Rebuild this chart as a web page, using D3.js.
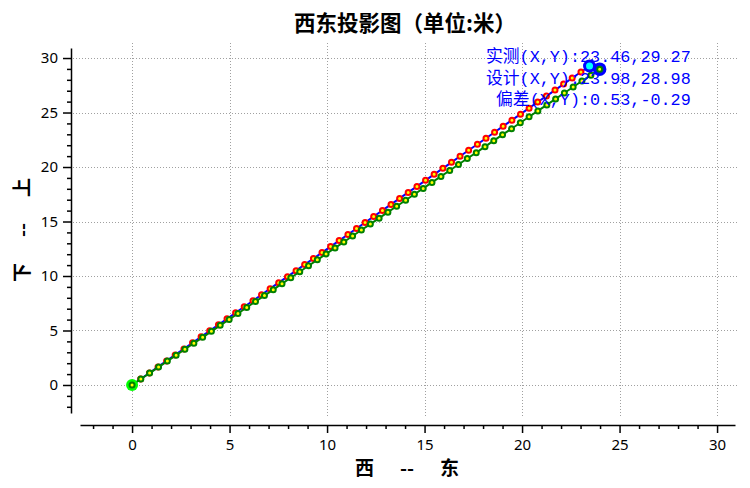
<!DOCTYPE html>
<html><head><meta charset="utf-8">
<script src="https://cdn.jsdelivr.net/npm/d3@7/dist/d3.min.js"></script>
<style>
body{margin:0;background:#fff;}
svg{display:block;}
text{white-space:pre;}
</style></head>
<body><svg id="c" width="750" height="488"></svg>
<script>
const title = "西东投影图（单位:米）";
const xLabel = "西      --      东";
const yLabel = "下      --      上";
const xMajorTicks = [0,5,10,15,20,25,30];
const yMajorTicks = [0,5,10,15,20,25,30];
const xMinorTicks = [-2,-1,1,2,3,4,6,7,8,9,11,12,13,14,16,17,18,19,21,22,23,24,26,27,28,29];
const yMinorTicks = [-2,-1,1,2,3,4,6,7,8,9,11,12,13,14,16,17,18,19,21,22,23,24,26,27,28,29];

// measured series (实测)
const measX = [0,0.44,0.89,1.33,1.77,2.21,2.66,3.10,3.54,3.98,4.43,4.87,5.31,5.75,6.20,6.64,7.08,7.52,7.97,8.41,8.85,9.30,9.74,10.18,10.62,11.07,11.51,11.95,12.39,12.84,13.28,13.72,14.16,14.61,15.05,15.49,15.94,16.38,16.82,17.26,17.71,18.15,18.59,19.03,19.48,19.92,20.36,20.80,21.25,21.69,22.13,22.57,23.02,23.46];
const measY = [0,0.55,1.10,1.66,2.21,2.76,3.31,3.87,4.42,4.97,5.52,6.07,6.63,7.18,7.73,8.28,8.84,9.39,9.94,10.49,11.05,11.60,12.15,12.70,13.25,13.81,14.36,14.91,15.46,16.02,16.57,17.12,17.67,18.22,18.78,19.33,19.88,20.43,20.99,21.54,22.09,22.64,23.19,23.75,24.30,24.85,25.40,25.96,26.51,27.06,27.61,28.17,28.72,29.27];
// design series (设计)
const desX = [0,0.45,0.90,1.36,1.81,2.26,2.71,3.17,3.62,4.07,4.52,4.98,5.43,5.88,6.33,6.79,7.24,7.69,8.14,8.60,9.05,9.50,9.95,10.41,10.86,11.31,11.76,12.22,12.67,13.12,13.57,14.03,14.48,14.93,15.38,15.84,16.29,16.74,17.19,17.65,18.10,18.55,19.00,19.46,19.91,20.36,20.81,21.27,21.72,22.17,22.62,23.07,23.53,23.98];
const desY = [0,0.55,1.09,1.64,2.19,2.73,3.28,3.83,4.37,4.92,5.47,6.01,6.56,7.11,7.66,8.20,8.75,9.30,9.84,10.39,10.94,11.48,12.03,12.58,13.12,13.67,14.22,14.76,15.31,15.86,16.40,16.95,17.50,18.04,18.59,19.14,19.68,20.23,20.78,21.32,21.87,22.42,22.97,23.51,24.06,24.61,25.15,25.70,26.25,26.79,27.34,27.89,28.43,28.98];

const startPoint = [0,0];
const measEnd = [23.46,29.27];
const desEnd = [23.98,28.98];
const deviation = [0.53,-0.29];
const infoLines = [
  "实测(X,Y):" + measEnd[0].toFixed(2) + "," + measEnd[1].toFixed(2),
  "设计(X,Y):" + desEnd[0].toFixed(2) + "," + desEnd[1].toFixed(2),
  " 偏差(X,Y):" + deviation[0].toFixed(2) + "," + deviation[1].toFixed(2)
];

const svg = d3.select("#c");
const x = d3.scaleLinear().domain([-2.67,30.92]).range([80,735]);
const y = d3.scaleLinear().domain([-2.57,30.92]).range([413,48]);

const tickFont = "'Noto Sans', 'Open Sans', sans-serif";
const cjk = "'Noto Sans CJK SC', sans-serif";

// grid
const grid = svg.append("g").attr("stroke","#a0a0a0").attr("stroke-width",1).attr("stroke-dasharray","1,2");
grid.selectAll(".gx").data(xMajorTicks).join("line")
  .attr("x1",d=>Math.round(x(d))+0.5).attr("x2",d=>Math.round(x(d))+0.5)
  .attr("y1",43).attr("y2",417);
grid.selectAll(".gy").data(yMajorTicks).join("line")
  .attr("y1",d=>Math.round(y(d))+0.5).attr("y2",d=>Math.round(y(d))+0.5)
  .attr("x1",73).attr("x2",737);

// axes
const xAx = svg.append("g").attr("transform","translate(0,425)");
xAx.call(d3.axisBottom(x).tickValues(xMajorTicks).tickSize(8).tickPadding(6).tickSizeOuter(0).tickFormat(d3.format("d")));
const xMin = svg.append("g").attr("transform","translate(0,425)");
xMin.call(d3.axisBottom(x).tickValues(xMinorTicks).tickSize(4).tickSizeOuter(0).tickFormat(""));
xMin.select(".domain").remove();
const yAx = svg.append("g").attr("transform","translate(71,0)");
yAx.call(d3.axisLeft(y).tickValues(yMajorTicks).tickSize(8).tickPadding(5).tickSizeOuter(0).tickFormat(d3.format("d")));
const yMin = svg.append("g").attr("transform","translate(71,0)");
yMin.call(d3.axisLeft(y).tickValues(yMinorTicks).tickSize(4).tickSizeOuter(0).tickFormat(""));
yMin.select(".domain").remove();
svg.selectAll(".tick text").attr("font-family",tickFont).attr("font-size",15).attr("fill","#000");
svg.selectAll(".domain, .tick line").attr("stroke","#000").attr("stroke-width",1.5);

// series
const measData = measX.map((v,i)=>[v,measY[i]]);
const desData = desX.map((v,i)=>[v,desY[i]]);
const line = d3.line().x(d=>x(d[0])).y(d=>y(d[1]));

svg.append("path").datum(measData).attr("d",line).attr("fill","none").attr("stroke","#0000ff").attr("stroke-width",2);
svg.append("g").selectAll("circle").data(measData).join("circle")
  .attr("cx",d=>x(d[0])).attr("cy",d=>y(d[1])).attr("r",2.5)
  .attr("fill","#ffff00").attr("stroke","#ff0000").attr("stroke-width",2);

svg.append("path").datum(desData).attr("d",line).attr("fill","none").attr("stroke","#008000").attr("stroke-width",2);
svg.append("circle").attr("cx",x(startPoint[0])).attr("cy",y(startPoint[1])).attr("r",6).attr("fill","#00ff00");
svg.append("g").selectAll("circle").data(desData).join("circle")
  .attr("cx",d=>x(d[0])).attr("cy",d=>y(d[1])).attr("r",2.5)
  .attr("fill","#ffff00").attr("stroke","#008000").attr("stroke-width",2);

// end markers
svg.append("circle").attr("cx",x(measEnd[0])).attr("cy",y(measEnd[1])).attr("r",5)
  .attr("fill","#00ffff").attr("stroke","#0000ff").attr("stroke-width",3);
svg.append("circle").attr("cx",x(desEnd[0])).attr("cy",y(desEnd[1])).attr("r",5.5)
  .attr("fill","#0000ff").attr("stroke","#0000ff").attr("stroke-width",2.5);
svg.append("circle").attr("cx",x(desEnd[0])).attr("cy",y(desEnd[1])).attr("r",2.5)
  .attr("fill","#ffff00").attr("stroke","#008000").attr("stroke-width",2);

// info text
svg.append("g").selectAll("text").data(infoLines).join("text")
  .attr("x",486).attr("y",(d,i)=>62+i*21.5)
  .attr("font-family","'Liberation Mono', 'Noto Sans CJK SC', monospace")
  .attr("font-size",16.8).attr("fill","#0000ff").text(d=>d);

// title & labels
svg.append("text").attr("x",405).attr("y",31).attr("text-anchor","middle")
  .attr("font-family",cjk).attr("font-weight","bold").attr("font-size",21.5).text(title);
svg.append("text").attr("x",407).attr("y",475).attr("text-anchor","middle")
  .attr("font-family",cjk).attr("font-weight","bold").attr("font-size",19).text(xLabel);
svg.append("text").attr("transform","translate(29,230) rotate(-90)").attr("text-anchor","middle")
  .attr("font-family",cjk).attr("font-weight","bold").attr("font-size",19).text(yLabel);
</script></body></html>
